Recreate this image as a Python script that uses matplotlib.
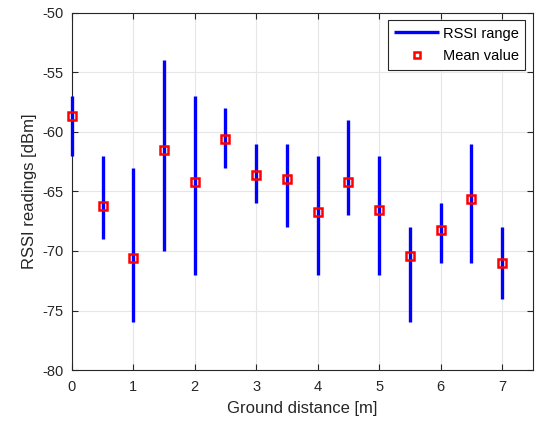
import numpy as np
import matplotlib.pyplot as plt

plt.rcParams['font.family'] = ['Liberation Sans', 'DejaVu Sans']
plt.rcParams['axes.unicode_minus'] = False

# 数据
distance = [0, 0.5, 1, 1.5, 2, 2.5, 3, 3.5, 4, 4.5, 5, 5.5, 6, 6.5, 7]
rssi_max = [-57, -62, -63, -54, -57, -58, -61, -61, -62, -59, -62, -68, -66, -61, -68]
rssi_min = [-62, -69, -76, -70, -72, -63, -66, -68, -72, -67, -72, -76, -71, -71, -74]
rssi_mean = [-58.7, -66.2, -70.6, -61.5, -64.2, -60.6, -63.6, -64.0, -66.7,
             -64.2, -66.6, -70.4, -68.2, -65.6, -71.0]

fig = plt.figure(figsize=(5.36, 4.22), dpi=100)
ax = fig.add_axes([0.134, 0.123, 0.86, 0.847])

# 范围线
for i, (x, lo, hi) in enumerate(zip(distance, rssi_min, rssi_max)):
    ax.plot([x, x], [lo, hi], color='#0000ff', linewidth=2.4, clip_on=False,
            solid_capstyle='butt', label='RSSI range' if i == 0 else None, zorder=3)

# 平均值
ax.plot(distance, rssi_mean, linestyle='none', marker='s', markersize=5.5,
        markerfacecolor='none', markeredgecolor='#ff0000', markeredgewidth=1.8,
        label='Mean value', zorder=4, clip_on=False)

ax.set_xlim(0, 7.5)
ax.set_ylim(-80, -50)
ax.set_xticks(np.arange(0, 8, 1))
ax.set_yticks(np.arange(-80, -49, 5))
ax.grid(True, color='#e6e6e6', linewidth=0.8)
ax.set_axisbelow(True)
ax.tick_params(direction='in', top=True, right=True, labelsize=10.5,
               colors='#262626', length=4)
ax.tick_params(axis='x', pad=7)
ax.tick_params(axis='y', pad=6)
for s in ax.spines.values():
    s.set_color('#262626')
    s.set_linewidth(0.8)

ax.set_xlabel('Ground distance [m]', fontsize=12, color='#262626', labelpad=5)
ax.set_ylabel('RSSI readings [dBm]', fontsize=12, color='#262626', labelpad=4)

leg = ax.legend(loc='upper right', fontsize=10.5, fancybox=False, framealpha=1,
                edgecolor='#262626', borderaxespad=0.5, handlelength=3.1,
                borderpad=0.45, labelspacing=0.6, handletextpad=0.25,
                markerscale=0.8)
leg.get_frame().set_linewidth(0.8)

fig.savefig('out.png', dpi=100)
